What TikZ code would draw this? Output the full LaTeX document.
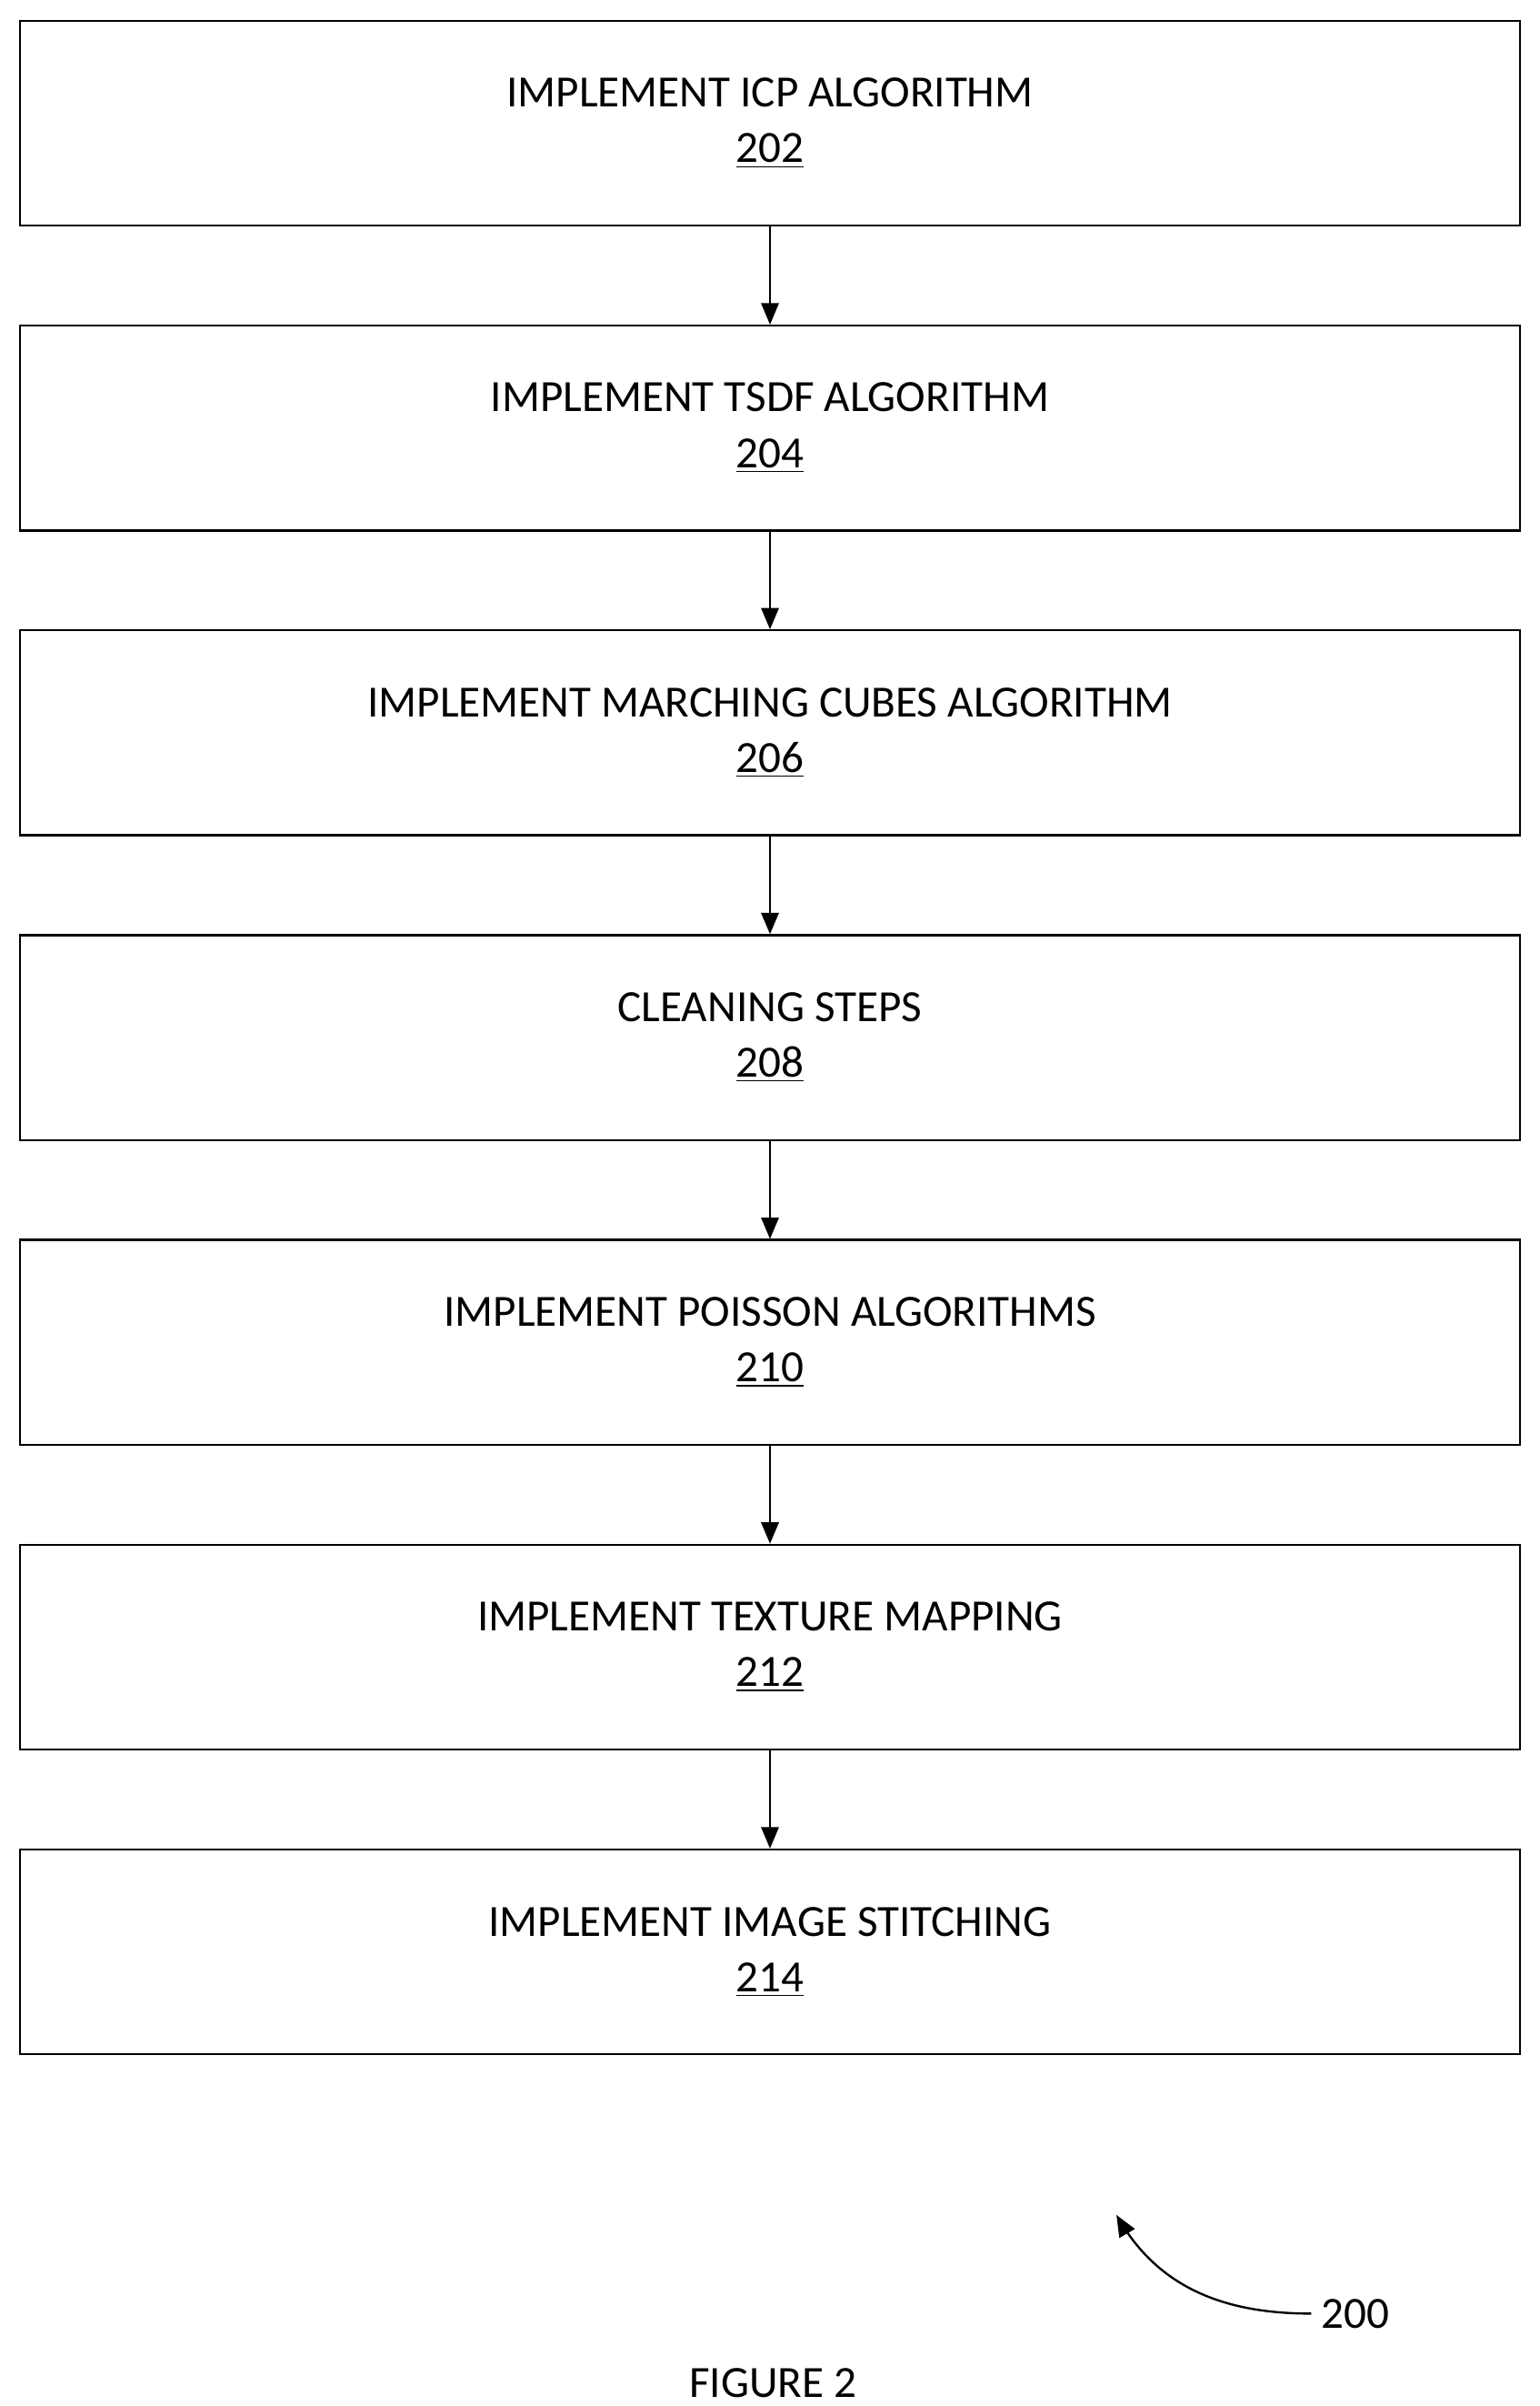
\documentclass[tikz,border=0pt]{standalone}
\usepackage{fontspec}
\setmainfont{Carlito}
\usetikzlibrary{arrows,positioning}
\begin{document}
\begin{tikzpicture}[
    >=triangle 45,thick,x=0.02cm,y=-0.02cm,
    stepbox/.style={rectangle,draw,minimum width=19.48cm,minimum height=2.66cm,
      align=center,font=\fontsize{16.5}{20.5}\selectfont},
    node distance=1.27cm
  ]
    \useasboundingbox (0,0) rectangle (1000,1562);
    \node [stepbox] (icp) at (500,80) {IMPLEMENT ICP ALGORITHM\\\underline{202}};
    \node [stepbox,below=of icp] (tsdf) {IMPLEMENT TSDF ALGORITHM\\\underline{204}};
    \node [stepbox,below=of tsdf] (cubes) {IMPLEMENT MARCHING CUBES ALGORITHM\\\underline{206}};
    \node [stepbox,below=of cubes] (clean) {CLEANING STEPS\\\underline{208}};
    \node [stepbox,below=of clean] (poisson) {IMPLEMENT POISSON ALGORITHMS\\\underline{210}};
    \node [stepbox,below=of poisson] (texture) {IMPLEMENT TEXTURE MAPPING\\\underline{212}};
    \node [stepbox,below=of texture] (stitch) {IMPLEMENT IMAGE STITCHING\\\underline{214}};
    \foreach \a/\b in {icp/tsdf,tsdf/cubes,cubes/clean,clean/poisson,poisson/texture,texture/stitch}
      \draw [->] (\a) -- (\b);
    \node [font=\fontsize{16.5}{19}\selectfont] (ref) at (880,1502) {200};
    \coordinate (tip) at (725,1438);
    \draw [->] (ref.west) to[out=180,in=-60] (tip);
    \node [font=\fontsize{16.5}{19}\selectfont] (fig) at (502,1547) {FIGURE 2};
\end{tikzpicture}
\end{document}
